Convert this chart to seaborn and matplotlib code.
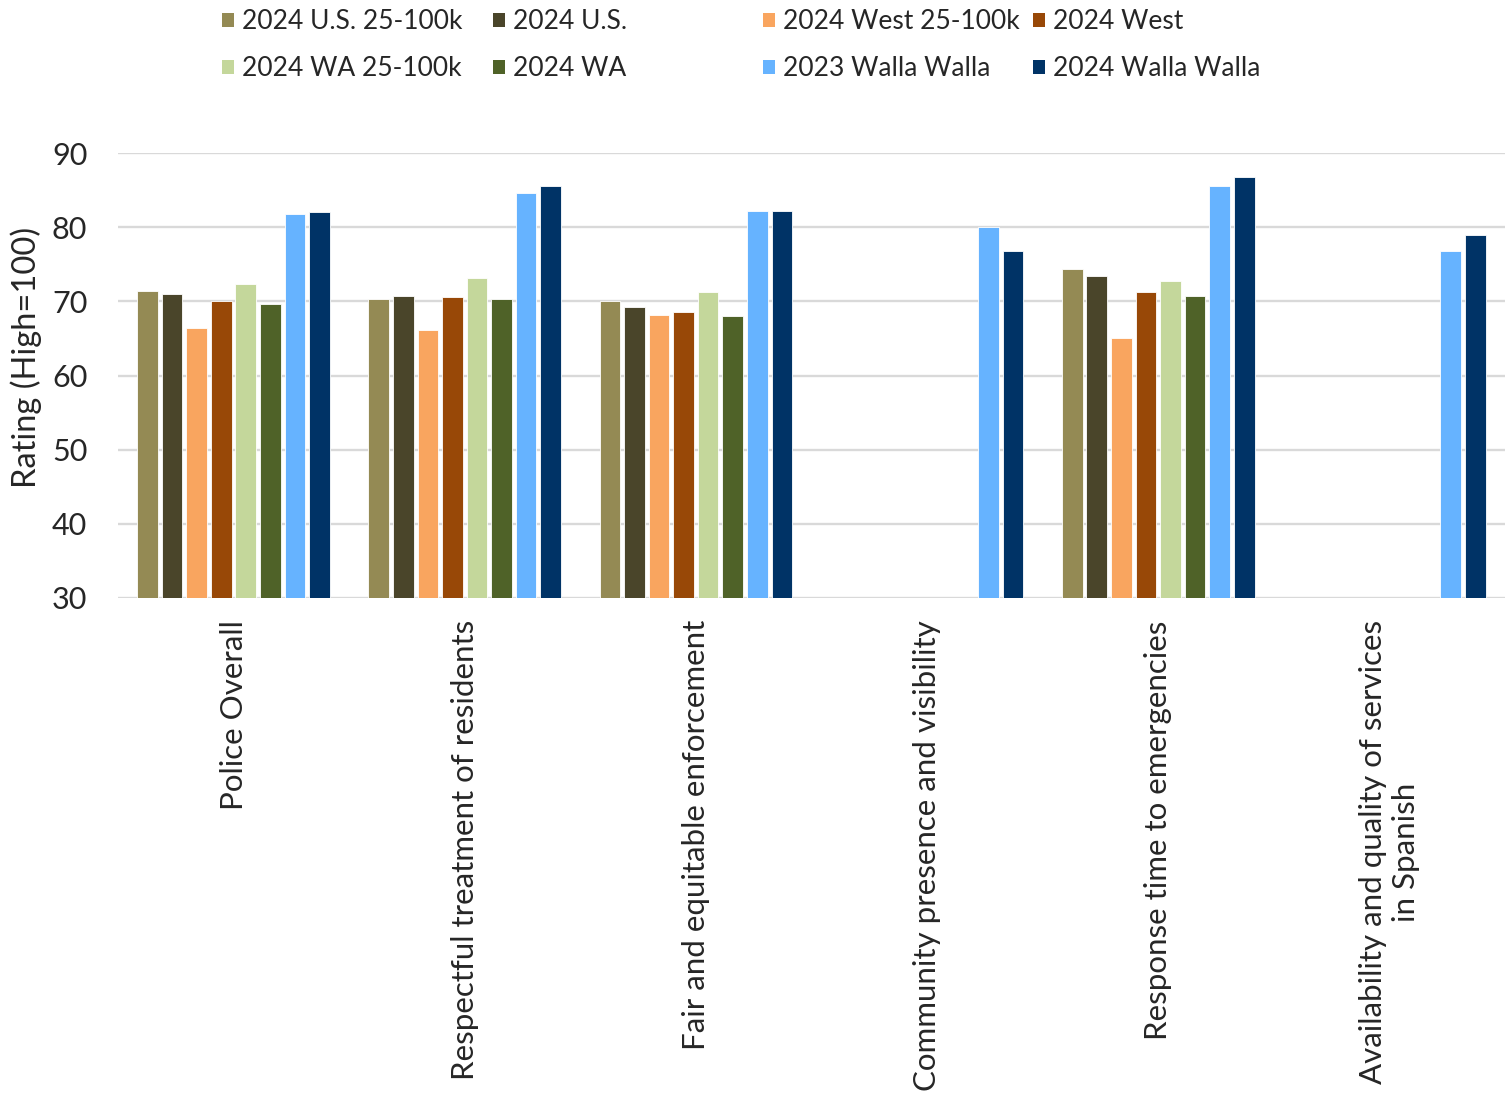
import matplotlib
matplotlib.use("Agg")
import matplotlib.pyplot as plt
import matplotlib.patches as mpatches
import numpy as np
import pandas as pd
import seaborn as sns

categories = [
    "Police Overall",
    "Respectful treatment of residents",
    "Fair and equitable enforcement",
    "Community presence and visibility",
    "Response time to emergencies",
    "Availability and quality of services\nin Spanish",
]
series_names = [
    "2024 U.S. 25-100k", "2024 U.S.", "2024 West 25-100k", "2024 West",
    "2024 WA 25-100k", "2024 WA", "2023 Walla Walla", "2024 Walla Walla",
]
nan = np.nan
us_25_100k = [71.4, 70.3, 70.0, nan, 74.3, nan]
us_all = [71.0, 70.7, 69.2, nan, 73.4, nan]
west_25_100k = [66.4, 66.1, 68.2, nan, 65.1, nan]
west_all = [70.1, 70.6, 68.6, nan, 71.2, nan]
wa_25_100k = [72.3, 73.1, 71.2, nan, 72.8, nan]
wa_all = [69.7, 70.3, 68.0, nan, 70.7, nan]
ww_2023 = [81.8, 84.6, 82.2, 80.0, 85.6, 76.8]
ww_2024 = [82.1, 85.6, 82.2, 76.8, 86.8, 79.0]
series_values = [us_25_100k, us_all, west_25_100k, west_all,
                 wa_25_100k, wa_all, ww_2023, ww_2024]
colors = ["#948A54", "#4A452A", "#F9A55F", "#984807",
          "#C4D79B", "#4F6228", "#66B3FF", "#003366"]
y_ticks = [30, 40, 50, 60, 70, 80, 90]

rows = []
for name, vals in zip(series_names, series_values):
    for cat, v in zip(categories, vals):
        rows.append({"Category": cat, "Series": name, "Value": v})
df = pd.DataFrame(rows)

sns.set_theme(style="white")
plt.rcParams["font.family"] = ["Lato", "DejaVu Sans"]

fig = plt.figure(figsize=(15.08, 10.93), dpi=100)
ax = fig.add_axes([0.0782, 0.4529, 0.9198, 0.4071])

sns.barplot(data=df, x="Category", y="Value", hue="Series",
            order=categories, hue_order=series_names, palette=colors,
            width=0.85, gap=0.16, ax=ax, legend=False,
            edgecolor="white", linewidth=0.6, saturation=1)

ax.set_ylim(30, 90)
ax.set_yticks(y_ticks)
ax.set_xlim(-0.5, len(categories) - 0.5)
ax.grid(axis="y", color="#D9D9D9", linewidth=1.7)
ax.set_axisbelow(True)
for s in ax.spines.values():
    s.set_visible(False)

ax.tick_params(axis="y", length=0, pad=22, labelsize=22, labelcolor="#262626")
ax.tick_params(axis="x", length=0, pad=16)
ax.set_xticks(range(len(categories)))
ax.set_xticklabels(categories, rotation=90, ha="center", va="top",
                   fontsize=22.5, color="#262626", multialignment="center")
ax.set_xlabel("")
ax.set_ylabel("Rating (High=100)", fontsize=23.5, color="#262626")
ax.yaxis.set_label_coords(-0.055, 0.54)

# Legend: four equal-width columns, two rows (row-wise order)
col_x = [222, 493, 763, 1033]
for c in range(4):
    idxs = [c, c + 4]
    handles = [mpatches.Patch(facecolor=colors[i], edgecolor="none") for i in idxs]
    labels = [series_names[i] for i in idxs]
    leg = fig.legend(handles, labels, loc="upper left",
                     bbox_to_anchor=(col_x[c] / 1508, 1 - 9 / 1093),
                     frameon=False, fontsize=19, borderpad=0, borderaxespad=0,
                     handlelength=0.45, handleheight=0.45, handletextpad=0.3,
                     labelspacing=0.85)
    for t in leg.get_texts():
        t.set_color("#262626")

fig.savefig("out.png", dpi=100)
